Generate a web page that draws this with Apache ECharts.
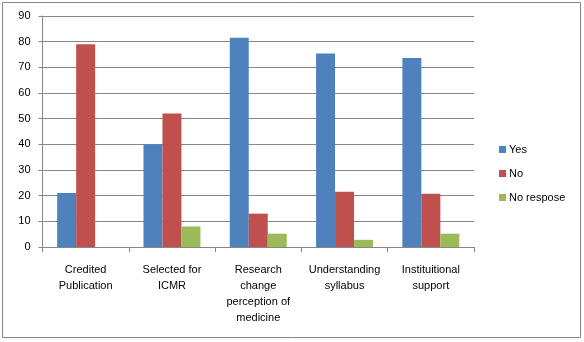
<!DOCTYPE html>
<html>
<head>
<meta charset="utf-8">
<script src="https://cdn.jsdelivr.net/npm/echarts@6/dist/echarts.min.js"></script>
<style>
  html, body { margin: 0; padding: 0; background: #fff; }
  #chart { width: 584px; height: 342px; }
</style>
</head>
<body>
<div id="chart"></div>
<script>
// Survey responses per statement (percent)
const categories = [
  'Credited\nPublication',
  'Selected for\nICMR',
  'Research\nchange\nperception of\nmedicine',
  'Understanding\nsyllabus',
  'Instituitional\nsupport'
];
const seriesNames = ['Yes', 'No', 'No respose'];
const yesValues = [21, 40, 81.5, 75.4, 73.6];
const noValues = [79, 52, 13, 21.5, 20.7];
const noResponseValues = [0, 8, 5.2, 2.8, 5.2];
const yTicks = [0, 10, 20, 30, 40, 50, 60, 70, 80, 90];

const colors = ['#4F81BD', '#C0504D', '#9BBB59'];
const font = 'Liberation Sans, DejaVu Sans, sans-serif';

const chart = echarts.init(document.getElementById('chart'), null, { renderer: 'canvas' });

chart.setOption({
  animation: false,
  backgroundColor: '#fff',
  graphic: [{
    type: 'rect',
    shape: { x: 2.5, y: 2.5, width: 578, height: 335 },
    style: { fill: 'none', stroke: '#868686', lineWidth: 1 },
    silent: true
  }],
  legend: {
    orient: 'vertical',
    left: 494,
    top: 138,
    itemWidth: 7,
    itemHeight: 7,
    itemGap: 11,
    icon: 'rect',
    textStyle: { fontFamily: font, fontSize: 11, color: '#000', lineHeight: 13, padding: [0, 0, 0, -2] },
    data: seriesNames
  },
  grid: { left: 42.5, right: 110, top: 16, bottom: 95, containLabel: false },
  xAxis: {
    type: 'category',
    data: categories,
    axisLine: { lineStyle: { color: '#868686' } },
    axisTick: { show: true, length: 5, lineStyle: { color: '#868686' } },
    axisLabel: {
      interval: 0,
      fontFamily: font,
      fontSize: 11,
      color: '#000',
      lineHeight: 16,
      margin: 15
    }
  },
  yAxis: {
    type: 'value',
    min: yTicks[0],
    max: yTicks[yTicks.length - 1],
    interval: 10,
    axisLine: { show: true, lineStyle: { color: '#868686' } },
    axisTick: { show: true, length: 4, lineStyle: { color: '#868686' } },
    splitLine: { lineStyle: { color: '#868686' } },
    axisLabel: { fontFamily: font, fontSize: 11, color: '#000', margin: 12 }
  },
  series: [
    { name: seriesNames[0], type: 'bar', data: yesValues, itemStyle: { color: colors[0] }, barGap: '0%', barCategoryGap: '34%' },
    { name: seriesNames[1], type: 'bar', data: noValues, itemStyle: { color: colors[1] }, barGap: '0%', barCategoryGap: '34%' },
    { name: seriesNames[2], type: 'bar', data: noResponseValues, itemStyle: { color: colors[2] }, barGap: '0%', barCategoryGap: '34%' }
  ]
});
</script>
</body>
</html>
